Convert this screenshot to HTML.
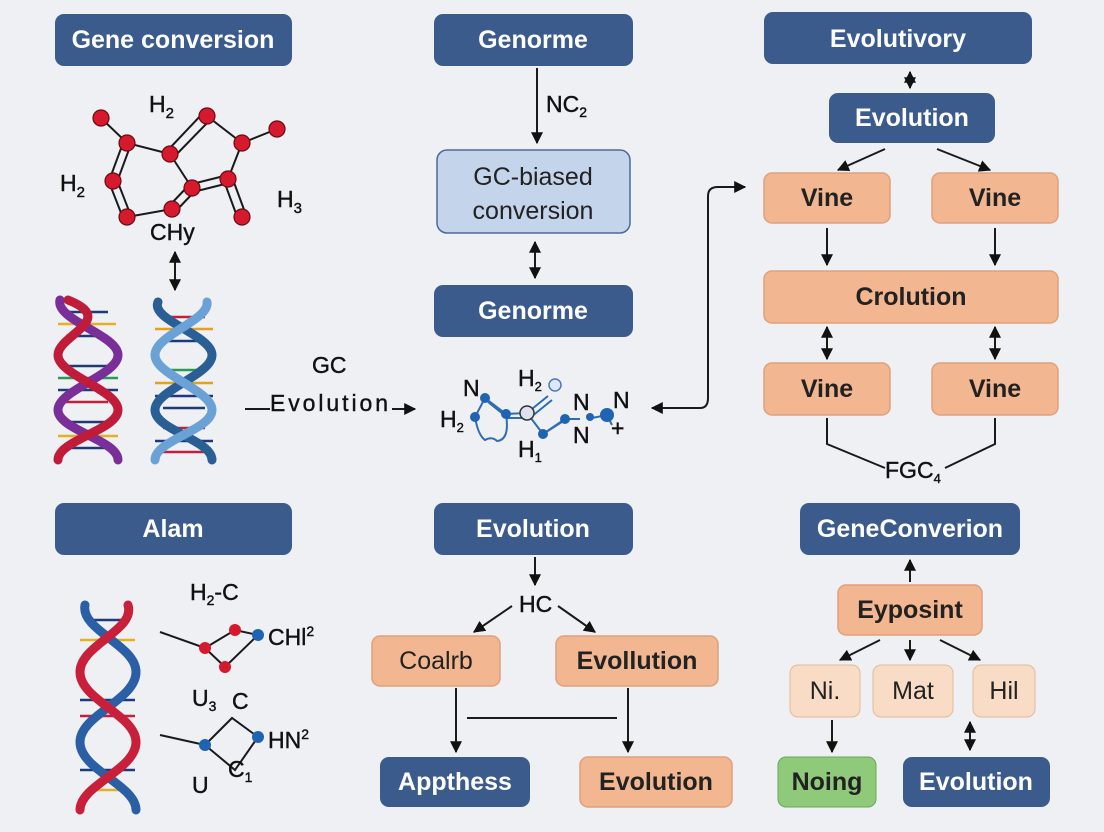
<!DOCTYPE html>
<html><head><meta charset="utf-8"><style>
body{margin:0;background:#eef0f3;}
svg{display:block;font-family:"Liberation Sans",sans-serif;}
.b{fill:#3a5b8c;}
.bt{fill:#fff;font-weight:bold;font-size:25px;text-anchor:middle;dominant-baseline:central;}
.o{fill:#f2b690;stroke:#e0a07a;stroke-width:1.5;}
.ot{fill:#222;font-weight:bold;font-size:25px;text-anchor:middle;dominant-baseline:central;}
.l{stroke:#1a1a1a;stroke-width:2;fill:none;}
.t{fill:#111;font-size:23px;stroke:#111;stroke-width:0.4;}
.at{fill:#d7192e;stroke:#6b0a12;stroke-width:1.2;}
</style></head><body>
<svg width="1104" height="832" viewBox="0 0 1104 832">
<defs><marker id="a" viewBox="0 0 10 10" refX="9" refY="5" markerWidth="6" markerHeight="6" orient="auto-start-reverse"><path d="M0,0 L10,5 L0,10 z" fill="#111"/></marker></defs>

<rect class="b" x="55" y="14" width="237" height="52" rx="9"/><text class="bt" x="173" y="40">Gene conversion</text>
<rect class="b" x="434" y="14" width="199" height="52" rx="9"/><text class="bt" x="533" y="40">Genorme</text>
<rect class="b" x="764" y="12" width="268" height="52" rx="9"/><text class="bt" x="898" y="39">Evolutivory</text>

<line class="l" x1="910" y1="72" x2="910" y2="88" marker-start="url(#a)" marker-end="url(#a)"/>
<rect class="b" x="829" y="93" width="166" height="50" rx="9"/><text class="bt" x="912" y="118">Evolution</text>
<line class="l" x1="885" y1="149" x2="838" y2="170" marker-end="url(#a)"/>
<line class="l" x1="937" y1="149" x2="990" y2="170" marker-end="url(#a)"/>
<rect class="o" x="764" y="173" width="126" height="50" rx="8"/><text class="ot" x="827" y="198">Vine</text>
<rect class="o" x="932" y="173" width="126" height="50" rx="8"/><text class="ot" x="995" y="198">Vine</text>
<line class="l" x1="827" y1="228" x2="827" y2="265" marker-end="url(#a)"/>
<line class="l" x1="995" y1="228" x2="995" y2="265" marker-end="url(#a)"/>
<rect class="o" x="764" y="271" width="294" height="52" rx="8"/><text class="ot" x="911" y="297">Crolution</text>
<line class="l" x1="827" y1="327" x2="827" y2="359" marker-start="url(#a)" marker-end="url(#a)"/>
<line class="l" x1="995" y1="327" x2="995" y2="359" marker-start="url(#a)" marker-end="url(#a)"/>
<rect class="o" x="764" y="363" width="126" height="52" rx="8"/><text class="ot" x="827" y="389">Vine</text>
<rect class="o" x="932" y="363" width="126" height="52" rx="8"/><text class="ot" x="995" y="389">Vine</text>
<path class="l" d="M827 418 V444 L885 468"/>
<path class="l" d="M995 418 V444 L945 468"/>
<text class="t" x="885" y="478">FGC<tspan font-size="13" dy="5">4</tspan></text>

<line class="l" x1="537" y1="68" x2="537" y2="143" marker-end="url(#a)"/>
<text class="t" x="546" y="112">NC<tspan font-size="14" dy="5">2</tspan></text>
<rect x="437" y="150" width="193" height="83" rx="10" fill="#c3d4eb" stroke="#4a6a99" stroke-width="1.5"/>
<text class="ot" x="533" y="177" style="font-weight:normal">GC-biased</text>
<text class="ot" x="533" y="211" style="font-weight:normal">conversion</text>
<line class="l" x1="535" y1="242" x2="535" y2="278" marker-start="url(#a)" marker-end="url(#a)"/>
<rect class="b" x="434" y="285" width="199" height="52" rx="9"/><text class="bt" x="533" y="311">Genorme</text>

<g stroke="#2d6db5" stroke-width="2" fill="none">
<path d="M485 398 L506 414 L527 413 M488 402 L508 418 L527 418"/>
<path d="M485 398 L475 417 Q478 435 485 440 Q492 436 497 441 Q510 440 506 414"/>
<path d="M548 396 L527 413 M552 400 L531 417"/>
<path d="M527 413 L543 434 L565 419 L580 419 M543 434 L565 420"/>
<path d="M592 418 L607 415 L612 425"/>
</g>
<g fill="#1f63b3"><circle cx="485" cy="398" r="5"/><circle cx="475" cy="417" r="5"/><circle cx="506" cy="414" r="5"/><circle cx="543" cy="434" r="5"/><circle cx="565" cy="419" r="5"/><circle cx="590" cy="417" r="4"/><circle cx="607" cy="415" r="7"/></g>
<circle cx="527" cy="413" r="7" fill="#d9e2ee" stroke="#333" stroke-width="1.5"/>
<circle cx="555" cy="385" r="6" fill="#dde8f6" stroke="#4a7ab5" stroke-width="1.5"/>
<text class="t" x="463" y="396">N</text>
<text class="t" x="440" y="427">H<tspan font-size="13" dy="5">2</tspan></text>
<text class="t" x="518" y="386">H<tspan font-size="13" dy="5">2</tspan></text>
<text class="t" x="518" y="457">H<tspan font-size="13" dy="5">1</tspan></text>
<text class="t" x="573" y="410">N</text>
<text class="t" x="573" y="443">N</text>
<text class="t" x="613" y="408">N</text>
<text class="t" x="611" y="436" font-size="18">+</text>

<path class="l" d="M652 408 H700 Q708 408 708 398 V196 Q708 187 718 187 H745" marker-start="url(#a)" marker-end="url(#a)"/>

<text class="t" x="312" y="373">GC</text>
<text class="t" x="270" y="411" textLength="118">Evolution</text>
<line class="l" x1="245" y1="409" x2="270" y2="409"/>
<line class="l" x1="392" y1="409" x2="415" y2="409" marker-end="url(#a)"/>

<g class="l">
<path d="M101 118 L127 143 L170 154 M207 116 L242 143 L277 129 M242 143 L228 179 M170 154 L192 188 M127 217 L172 209"/>
<path d="M168 150 L204 112 M173 158 L210 120"/>
<path d="M123 143 L109 181 M131 144 L117 182"/>
<path d="M109 182 L123 218 M117 180 L131 216"/>
<path d="M170 205 L190 184 M174 213 L194 192"/>
<path d="M192 184 L228 175 M193 192 L229 183"/>
<path d="M224 181 L238 219 M232 177 L246 215"/>
</g>
<g class="at"><circle cx="101" cy="118" r="8"/><circle cx="127" cy="143" r="8"/><circle cx="170" cy="154" r="8"/><circle cx="207" cy="116" r="8"/><circle cx="277" cy="129" r="8"/><circle cx="242" cy="143" r="8"/><circle cx="113" cy="181" r="8"/><circle cx="192" cy="188" r="8"/><circle cx="228" cy="179" r="8"/><circle cx="127" cy="217" r="8"/><circle cx="172" cy="209" r="8"/><circle cx="242" cy="217" r="8"/></g>
<text class="t" x="149" y="112" font-size="24">H<tspan font-size="15" dy="6">2</tspan></text>
<text class="t" x="60" y="191" font-size="24">H<tspan font-size="15" dy="6">2</tspan></text>
<text class="t" x="277" y="207" font-size="24">H<tspan font-size="15" dy="6">3</tspan></text>
<text class="t" x="150" y="240" font-size="20">CHy</text>
<line class="l" x1="175" y1="252" x2="175" y2="290" marker-start="url(#a)" marker-end="url(#a)"/>

<g stroke-width="2.5">
<line x1="66" y1="312" x2="108" y2="312" stroke="#1d3a7a"/><line x1="58" y1="324" x2="116" y2="324" stroke="#e6b020"/><line x1="66" y1="336" x2="108" y2="336" stroke="#1d3a7a"/>
<line x1="66" y1="366" x2="108" y2="366" stroke="#1d3a7a"/><line x1="58" y1="378" x2="118" y2="378" stroke="#2a9a5a"/><line x1="58" y1="390" x2="118" y2="390" stroke="#1d3a7a"/><line x1="66" y1="402" x2="108" y2="402" stroke="#c0203a"/>
<line x1="66" y1="422" x2="108" y2="422" stroke="#1d3a7a"/><line x1="58" y1="436" x2="118" y2="436" stroke="#e6b020"/><line x1="66" y1="448" x2="108" y2="448" stroke="#1d3a7a"/>
<line x1="163" y1="317" x2="205" y2="317" stroke="#c0203a"/><line x1="155" y1="329" x2="213" y2="329" stroke="#e6a020"/><line x1="163" y1="341" x2="205" y2="341" stroke="#1d3a7a"/>
<line x1="163" y1="370" x2="205" y2="370" stroke="#2a9a5a"/><line x1="155" y1="383" x2="213" y2="383" stroke="#e6a020"/><line x1="155" y1="396" x2="213" y2="396" stroke="#1d3a7a"/><line x1="163" y1="408" x2="205" y2="408" stroke="#1d3a7a"/>
<line x1="163" y1="428" x2="205" y2="428" stroke="#c0203a"/><line x1="155" y1="441" x2="213" y2="441" stroke="#1d3a7a"/><line x1="163" y1="452" x2="205" y2="452" stroke="#c0203a"/>
</g>
<g fill="none" stroke-width="9" stroke-linecap="round">
<path d="M60 300 C55 320,118 335,118 355 C118 375,58 390,58 410 C58 430,118 440,118 460" stroke="#7a2e9a"/>
<path d="M68 300 C118 320,58 335,58 355 C58 375,118 390,118 410 C118 430,58 440,58 460" stroke="#c01c3a"/>
<path d="M158 302 C150 320,212 335,212 355 C212 375,155 390,155 410 C155 430,212 440,212 460" stroke="#2a5f95"/>
<path d="M207 302 C210 320,155 335,155 355 C155 375,212 390,212 410 C212 430,155 440,155 460" stroke="#6aa2d6"/>
</g>

<rect class="b" x="55" y="503" width="237" height="52" rx="9"/><text class="bt" x="173" y="529">Alam</text>
<rect class="b" x="434" y="503" width="199" height="52" rx="9"/><text class="bt" x="533" y="529">Evolution</text>
<line class="l" x1="535" y1="557" x2="535" y2="585" marker-end="url(#a)"/>
<text class="t" x="519" y="612">HC</text>
<line class="l" x1="512" y1="606" x2="474" y2="632" marker-end="url(#a)"/>
<line class="l" x1="558" y1="606" x2="595" y2="632" marker-end="url(#a)"/>
<rect class="o" x="372" y="636" width="128" height="50" rx="8"/><text class="ot" x="436" y="661" style="font-weight:normal">Coalrb</text>
<rect class="o" x="556" y="636" width="162" height="50" rx="8"/><text class="ot" x="637" y="661">Evollution</text>
<line class="l" x1="456" y1="688" x2="456" y2="752" marker-end="url(#a)"/>
<line class="l" x1="628" y1="688" x2="628" y2="752" marker-end="url(#a)"/>
<line class="l" x1="467" y1="718" x2="617" y2="718"/>
<rect class="b" x="380" y="757" width="150" height="50" rx="9"/><text class="bt" x="455" y="782">Appthess</text>
<rect class="o" x="580" y="757" width="152" height="50" rx="8"/><text class="ot" x="656" y="782">Evolution</text>

<rect class="b" x="800" y="503" width="220" height="52" rx="9"/><text class="bt" x="910" y="529">GeneConverion</text>
<line class="l" x1="910" y1="582" x2="910" y2="560" marker-end="url(#a)"/>
<rect class="o" x="838" y="585" width="144" height="50" rx="8"/><text class="ot" x="910" y="610">Eyposint</text>
<line class="l" x1="880" y1="640" x2="840" y2="660" marker-end="url(#a)"/>
<line class="l" x1="910" y1="640" x2="910" y2="660" marker-end="url(#a)"/>
<line class="l" x1="940" y1="640" x2="980" y2="660" marker-end="url(#a)"/>
<rect x="790" y="665" width="70" height="52" rx="8" fill="#f8dcc6" stroke="#e6b898"/><text class="ot" x="825" y="691" style="font-weight:normal">Ni.</text>
<rect x="873" y="665" width="80" height="52" rx="8" fill="#f8dcc6" stroke="#e6b898"/><text class="ot" x="913" y="691" style="font-weight:normal">Mat</text>
<rect x="973" y="665" width="62" height="52" rx="8" fill="#f8dcc6" stroke="#e6b898"/><text class="ot" x="1004" y="691" style="font-weight:normal">Hil</text>
<line class="l" x1="832" y1="720" x2="832" y2="752" marker-end="url(#a)"/>
<line class="l" x1="970" y1="722" x2="970" y2="750" marker-start="url(#a)" marker-end="url(#a)"/>
<rect x="778" y="757" width="98" height="50" rx="8" fill="#8fc97a" stroke="#6aa858"/><text class="ot" x="827" y="782">Noing</text>
<rect class="b" x="903" y="757" width="147" height="50" rx="9"/><text class="bt" x="976" y="782">Evolution</text>

<g stroke-width="2.5">
<line x1="90" y1="620" x2="125" y2="620" stroke="#1d3a7a"/><line x1="80" y1="640" x2="135" y2="640" stroke="#e6b020"/><line x1="80" y1="700" x2="135" y2="700" stroke="#1d3a7a"/><line x1="80" y1="716" x2="135" y2="716" stroke="#c0203a"/><line x1="80" y1="770" x2="135" y2="770" stroke="#1d3a7a"/><line x1="88" y1="790" x2="128" y2="790" stroke="#e6b020"/>
</g>
<g fill="none" stroke-width="9" stroke-linecap="round">
<path d="M85 605 C80 630,136 645,136 672 C136 700,80 715,80 742 C80 770,136 785,136 810" stroke="#2a5fa5"/>
<path d="M128 605 C136 630,80 645,80 672 C80 700,136 715,136 742 C136 770,80 785,80 810" stroke="#c8203a"/>
</g>
<g class="l">
<path d="M160 632 L205 648 L235 630 L258 635 L225 667 L205 648"/>
<path d="M160 735 L205 745 L232 718 L258 737 L235 770 L205 745"/>
</g>
<g fill="#d7192e"><circle cx="205" cy="648" r="6"/><circle cx="235" cy="630" r="6"/><circle cx="225" cy="667" r="6"/></g>
<circle cx="258" cy="635" r="6" fill="#1f63b3"/>
<g fill="#1f63b3"><circle cx="205" cy="745" r="6"/><circle cx="258" cy="737" r="6"/></g>
<text class="t" x="190" y="600">H<tspan font-size="14" dy="5">2</tspan><tspan dy="-5">-C</tspan></text>
<text class="t" x="268" y="645">CHl<tspan font-size="14" dy="-9">2</tspan></text>
<text class="t" x="192" y="706">U<tspan font-size="14" dy="5">3</tspan></text>
<text class="t" x="232" y="709">C</text>
<text class="t" x="268" y="748">HN<tspan font-size="14" dy="-9">2</tspan></text>
<text class="t" x="192" y="793">U</text>
<text class="t" x="228" y="777">C<tspan font-size="14" dy="5">1</tspan></text>
</svg>
</body></html>
